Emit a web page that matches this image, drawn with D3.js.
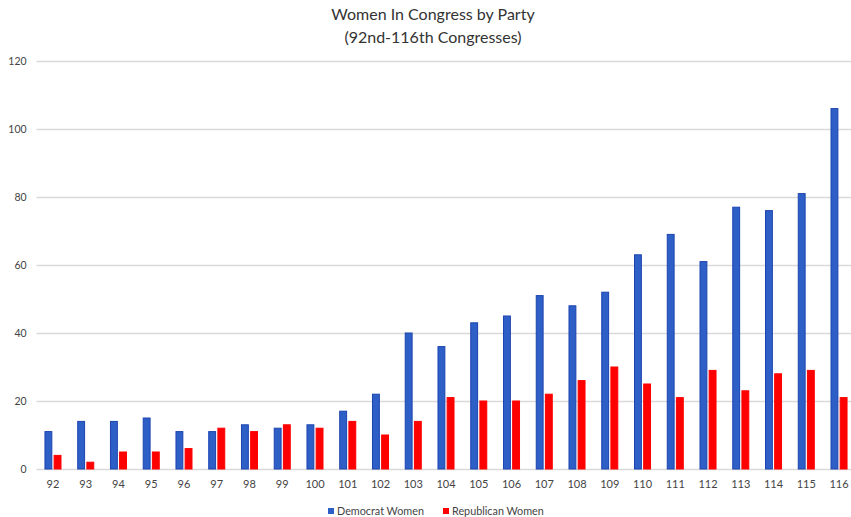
<!DOCTYPE html>
<html>
<head>
<meta charset="utf-8">
<script src="https://cdn.jsdelivr.net/npm/d3@7"></script>
<style>
  html, body { margin: 0; padding: 0; background: #fff; }
  svg { display: block; font-family: Lato, "Open Sans", sans-serif; }
</style>
</head>
<body>
<svg id="chart" width="851" height="517"></svg>
<script>
// Congress numbers (92nd through 116th)
const congresses = ["92","93","94","95","96","97","98","99","100","101","102","103","104","105","106","107","108","109","110","111","112","113","114","115","116"];
// Number of women serving, by party
const democratWomen   = [11,14,14,15,11,11,13,12,13,17,22,40,36,43,45,51,48,52,63,69,61,77,76,81,106];
const republicanWomen = [4,2,5,5,6,12,11,13,12,14,10,14,21,20,20,22,26,30,25,21,29,23,28,29,21];
const seriesNames = ["Democrat Women", "Republican Women"];
const yTicks = [0, 20, 40, 60, 80, 100, 120];

const seriesFill   = ["#2e5fc6", "#ff0000"];
const seriesStroke = ["#1c44b0", "#ff0000"];

const svg = d3.select("#chart");
const W = 851, H = 517;
const plotLeft = 36.6, plotRight = 855.4, plotTop = 61, plotBottom = 469;

const rows = congresses.map((c, i) => ({ c, vals: [democratWomen[i], republicanWomen[i]] }));

const x0 = d3.scaleBand().domain(congresses).range([plotLeft, plotRight])
  .paddingInner(0.48).paddingOuter(0.24);
const x1 = d3.scaleBand().domain([0, 1]).range([0, x0.bandwidth()]).paddingInner(0.14);
const y = d3.scaleLinear().domain([0, 120]).range([plotBottom, plotTop]);

// Title
const titleX = 433;
const title = svg.append("text").attr("text-anchor", "middle")
  .attr("fill", "#333").style("font-size", "16px");
title.append("tspan").attr("x", titleX).attr("y", 19.5).text("Women In Congress by Party");
title.append("tspan").attr("x", titleX).attr("y", 42.5).text("(92nd-116th Congresses)");

// Gridlines and y labels
const yAxis = d3.axisLeft(y).tickValues(yTicks).tickSize(-(W - plotLeft)).tickPadding(10);
const gy = svg.append("g").attr("transform", `translate(${plotLeft},0)`).call(yAxis);
gy.select(".domain").remove();
gy.selectAll(".tick line").attr("stroke", "#d9d9d9").attr("stroke-width", 1.5);
gy.selectAll(".tick text").attr("fill", "#444").style("font-size", "10.5px")
  .style("font-family", "Lato, 'Open Sans', sans-serif");

// Bars: one group per Congress, Democrat then Republican
const groups = svg.append("g").selectAll("g").data(rows).join("g")
  .attr("transform", d => `translate(${x0(d.c)},0)`);
groups.selectAll("rect").data(d => d.vals.map((v, k) => ({ v, k }))).join("rect")
  .attr("x", d => x1(d.k) + 0.5)
  .attr("width", x1.bandwidth() - 1)
  .attr("y", d => y(d.v))
  .attr("height", d => y(0) - y(d.v))
  .attr("fill", d => seriesFill[d.k])
  .attr("stroke", d => seriesStroke[d.k])
  .attr("stroke-width", 1);

// x labels
const xAxis = d3.axisBottom(x0).tickSize(0).tickPadding(11);
const gx = svg.append("g").attr("transform", `translate(0,${plotBottom})`).call(xAxis);
gx.select(".domain").remove();
gx.selectAll(".tick text").attr("fill", "#444").style("font-size", "11px")
  .style("font-family", "Lato, 'Open Sans', sans-serif");

// Legend
const legend = svg.append("g").attr("transform", "translate(328,511)");
const legendX = [0, 115];
seriesNames.forEach((name, k) => {
  const g = legend.append("g").attr("transform", `translate(${legendX[k]},0)`);
  g.append("rect").attr("x", 0).attr("y", -3).attr("width", 6).attr("height", 6)
    .attr("fill", seriesFill[k]);
  g.append("text").attr("x", 9).attr("y", 3.8).attr("fill", "#444")
    .style("font-size", "10.8px").text(name);
});
</script>
</body>
</html>
